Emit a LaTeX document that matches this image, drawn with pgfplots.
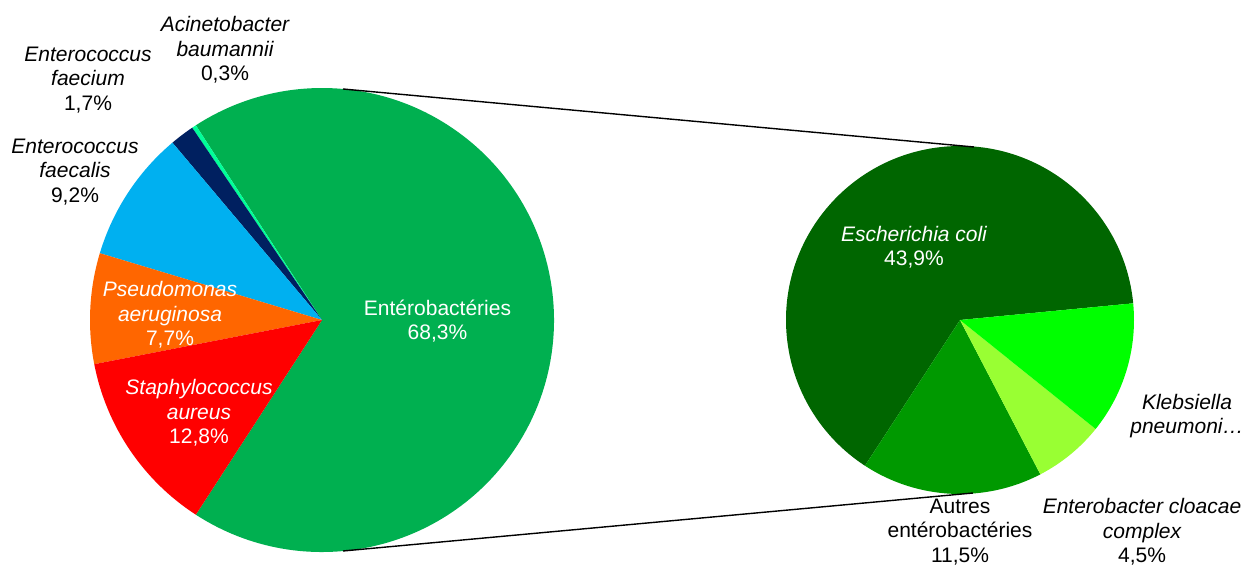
\documentclass[border=0pt]{standalone}
\usepackage{pgfplots}
\pgfplotsset{compat=1.18}
\usepackage{fontspec}
\setmainfont{Liberation Sans}
\definecolor{cEntero}{HTML}{00B050}
\definecolor{cAcin}{HTML}{00FF99}
\definecolor{cFaecium}{HTML}{002060}
\definecolor{cFaecalis}{HTML}{00B0F0}
\definecolor{cPseudo}{HTML}{FF6600}
\definecolor{cStaph}{HTML}{FF0000}
\definecolor{cEcoli}{HTML}{006600}
\definecolor{cAutres}{HTML}{009900}
\definecolor{cEntbac}{HTML}{99FF33}
\definecolor{cKleb}{HTML}{00FF00}
\tikzset{lab/.style={font=\fontsize{21}{24.5}\selectfont,align=center,inner sep=0pt}}
% slice: cx, cy, radius, start angle, end angle, colour
\newcommand\slice[6]{\fill[#6] (axis cs:#1,#2) -- ++({#4}:#3pt) arc[start angle={#4}, end angle={#5}, radius=#3pt] -- cycle;}
\begin{document}
\begin{tikzpicture}
\begin{axis}[x=1pt,y=1pt,xmin=0,xmax=1245,ymin=0,ymax=565,hide axis,clip=false,anchor=origin,at={(0,0)}]
% ---- left pie: percentages (cumulative) 0, 68.3, 68.6, 70.3, 79.5, 87.2, 100 ----
\def\bL{-122.94}
\slice{322}{245}{232}{\bL+3.6*0}{\bL+3.6*68.3}{cEntero}
\slice{322}{245}{232}{\bL+3.6*68.3}{\bL+3.6*68.6}{cAcin}
\slice{322}{245}{232}{\bL+3.6*68.6}{\bL+3.6*70.3}{cFaecium}
\slice{322}{245}{232}{\bL+3.6*70.3}{\bL+3.6*79.5}{cFaecalis}
\slice{322}{245}{232}{\bL+3.6*79.5}{\bL+3.6*87.2}{cPseudo}
\slice{322}{245}{232}{\bL+3.6*87.2}{\bL+3.6*100}{cStaph}
% ---- right pie: E. coli 43.9, Autres 11.5, Enterobacter 4.5, Klebsiella 8.4 (of 68.3) ----
\def\bR{5.5}
\def\kR{5.27086}
\slice{960}{245}{174}{\bR+\kR*0}{\bR+\kR*43.9}{cEcoli}
\slice{960}{245}{174}{\bR+\kR*43.9}{\bR+\kR*55.4}{cAutres}
\slice{960}{245}{174}{\bR+\kR*55.4}{\bR+\kR*59.9}{cEntbac}
\slice{960}{245}{174}{\bR+\kR*59.9}{\bR+\kR*68.3}{cKleb}
% connectors
\draw[black,line width=1.4pt] (axis cs:343,476) -- (axis cs:974,418);
\draw[black,line width=1.4pt] (axis cs:343,14) -- (axis cs:973,72);
% labels
\node[lab] at (axis cs:225,515) {\itshape Acinetobacter\\\itshape baumannii\\0,3\%};
\node[lab] at (axis cs:88,485) {\itshape Enterococcus\\\itshape faecium\\1,7\%};
\node[lab] at (axis cs:75,393) {\itshape Enterococcus\\\itshape faecalis\\9,2\%};
\node[lab,white] at (axis cs:170,250) {\itshape Pseudomonas\\\itshape aeruginosa\\7,7\%};
\node[lab,white] at (axis cs:199,152) {\itshape Staphylococcus\\\itshape aureus\\12,8\%};
\node[lab,white] at (axis cs:437.5,244) {Entérobactéries\\68,3\%};
\node[lab,white] at (axis cs:914,318) {\itshape Escherichia coli\\43,9\%};
\node[lab] at (axis cs:1187,149) {\itshape Klebsiella\\\itshape pneumoni…};
\node[lab] at (axis cs:960,33) {Autres\\entérobactéries\\11,5\%};
\node[lab] at (axis cs:1142,33) {\itshape Enterobacter cloacae\\\itshape complex\\4,5\%};
\end{axis}
\pgfresetboundingbox
\path (0,0) rectangle (1245pt,565pt);
\end{tikzpicture}
\end{document}
